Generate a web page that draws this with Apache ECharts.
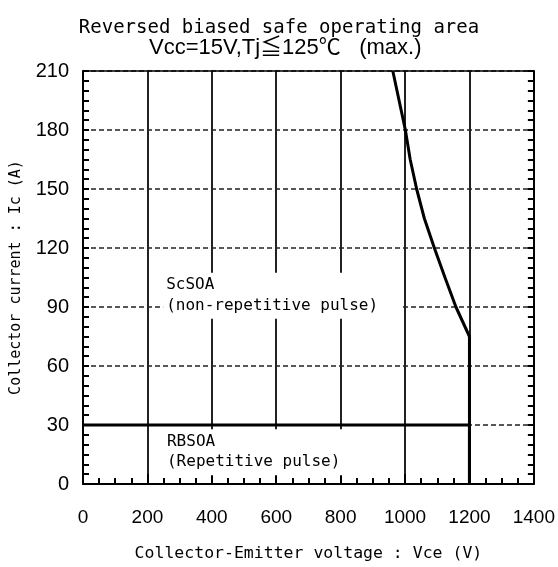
<!DOCTYPE html>
<html><head><meta charset="utf-8">
<script src="https://cdn.jsdelivr.net/npm/echarts@6/dist/echarts.min.js"></script>
<style>html,body{margin:0;padding:0;background:#fff}#c{width:558px;height:567px}</style>
</head><body><div id="c"></div>
<script>
// ---- data ----
const titleLine1 = 'Reversed biased safe operating area';
const titleLine2 = 'Vcc=15V,Tj≦125℃   (max.)';
const xAxisName = 'Collector-Emitter voltage : Vce (V)';
const yAxisName = 'Collector current : Ic (A)';
const xTicks = [0, 200, 400, 600, 800, 1000, 1200, 1400];
const yTicks = [0, 30, 60, 90, 120, 150, 180, 210];
// RBSOA boundary (V, A)
const rbsoaVce = [0, 1200, 1200];
const rbsoaIc  = [30, 30, 0];
// ScSOA boundary (V, A)
const scsoaVce = [962, 1001, 1016, 1036, 1060, 1091, 1124, 1158, 1200, 1200];
const scsoaIc  = [210, 180, 165, 150, 135, 120, 105, 90, 75, 0];
// region labels
const labelNames = ['ScSOA', 'RBSOA'];
const labelSubs  = ['(non-repetitive pulse)', '(Repetitive pulse)'];
const labelVce   = [249, 208];
const labelIc    = [95.7, 16.2];

// ---- chart ----
const MONO = "'DejaVu Sans Mono', 'Liberation Mono', monospace";
const NARROW = "'Liberation Sans Narrow', 'Liberation Sans', 'Noto Sans CJK JP', sans-serif";
const zip = (a, b) => a.map((v, i) => [v, b[i]]);
const xMin = xTicks[0], xMax = xTicks[xTicks.length - 1], xInt = xTicks[1] - xTicks[0];
const yMin = yTicks[0], yMax = yTicks[yTicks.length - 1], yInt = yTicks[1] - yTicks[0];

const chart = echarts.init(document.getElementById('c'), null, {renderer: 'canvas'});
const black = '#000';
const axisCommon = {
  type: 'value',
  axisLine: {show: true, onZero: false, lineStyle: {color: black, width: 2}},
};
const labelPads = [[2, 24, 2, 3], [3, 62, 3, 17]];
const labelLH = [21, 20];
chart.setOption({
  animation: false,
  backgroundColor: '#fff',
  title: [
    {text: titleLine1, left: 'center', top: 14,
     textStyle: {fontFamily: MONO, fontSize: 19, fontWeight: 'normal', color: black}},
    {text: titleLine2, left: 144, top: 32,
     textStyle: {fontFamily: NARROW, fontSize: 22, fontWeight: 'normal', color: black}}
  ],
  grid: {left: 83, right: 23, top: 71, bottom: 80, containLabel: false},
  xAxis: [
    Object.assign({}, axisCommon, {
      position: 'bottom', min: xMin, max: xMax, interval: xInt,
      axisTick: {show: true, inside: true, length: 10, lineStyle: {color: black, width: 2}},
      minorTick: {show: true, splitNumber: 4, length: 6, lineStyle: {color: black, width: 2}},
      axisLabel: {margin: 24, color: black, fontFamily: NARROW, fontSize: 19, formatter: v => String(v)},
      splitLine: {show: true, lineStyle: {color: '#222', width: 2, type: 'solid'}},
      name: xAxisName, nameLocation: 'middle', nameGap: 61,
      nameTextStyle: {fontFamily: MONO, fontSize: 16.5, color: black}
    }),
    Object.assign({}, axisCommon, {
      position: 'top', min: xMin, max: xMax, interval: xInt,
      axisLine: {show: true, onZero: false, lineStyle: {color: black, width: 1.5}},
      axisTick: {show: false}, axisLabel: {show: false}, splitLine: {show: false}
    })
  ],
  yAxis: [
    Object.assign({}, axisCommon, {
      position: 'left', min: yMin, max: yMax, interval: yInt,
      axisTick: {show: true, inside: true, length: 6, lineStyle: {color: black, width: 2}},
      minorTick: {show: true, splitNumber: 6, length: 6, lineStyle: {color: black, width: 2}},
      axisLabel: {margin: 14, color: black, fontFamily: NARROW, fontSize: 20, formatter: v => String(v)},
      splitLine: {show: true, lineStyle: {color: '#222', width: 1.6, type: [5, 3]}},
      name: yAxisName, nameLocation: 'middle', nameGap: 59, nameRotate: 90,
      nameTextStyle: {fontFamily: MONO, fontSize: 15, color: black}
    }),
    Object.assign({}, axisCommon, {
      position: 'right', min: yMin, max: yMax, interval: yInt,
      axisTick: {show: true, inside: true, length: 6, lineStyle: {color: black, width: 2}},
      minorTick: {show: true, splitNumber: 6, length: 6, lineStyle: {color: black, width: 2}},
      axisLabel: {show: false}, splitLine: {show: false}
    })
  ],
  series: [
    {type: 'line', xAxisIndex: 0, yAxisIndex: 0, data: zip(rbsoaVce, rbsoaIc),
     symbol: 'none', lineStyle: {color: black, width: 3}, z: 5},
    {type: 'line', xAxisIndex: 0, yAxisIndex: 0, data: zip(scsoaVce, scsoaIc),
     symbol: 'none', lineStyle: {color: black, width: 3}, z: 5},
    {type: 'scatter', xAxisIndex: 0, yAxisIndex: 0, symbolSize: 0, z: 4,
     itemStyle: {opacity: 1, color: '#fff'},
     emphasis: {disabled: true},
     data: labelNames.map((n, i) => ({
       value: [labelVce[i], labelIc[i]], name: n,
       label: {padding: labelPads[i], lineHeight: labelLH[i]}
     })),
     label: {
       show: true, position: 'right', distance: 0, opacity: 1,
       formatter: p => p.name + '\n' + labelSubs[p.dataIndex],
       fontFamily: MONO, fontSize: 16, color: black, align: 'left',
       backgroundColor: '#fff'
     },
     labelLayout: {hideOverlap: false}
    }
  ]
});
</script>
</body></html>
